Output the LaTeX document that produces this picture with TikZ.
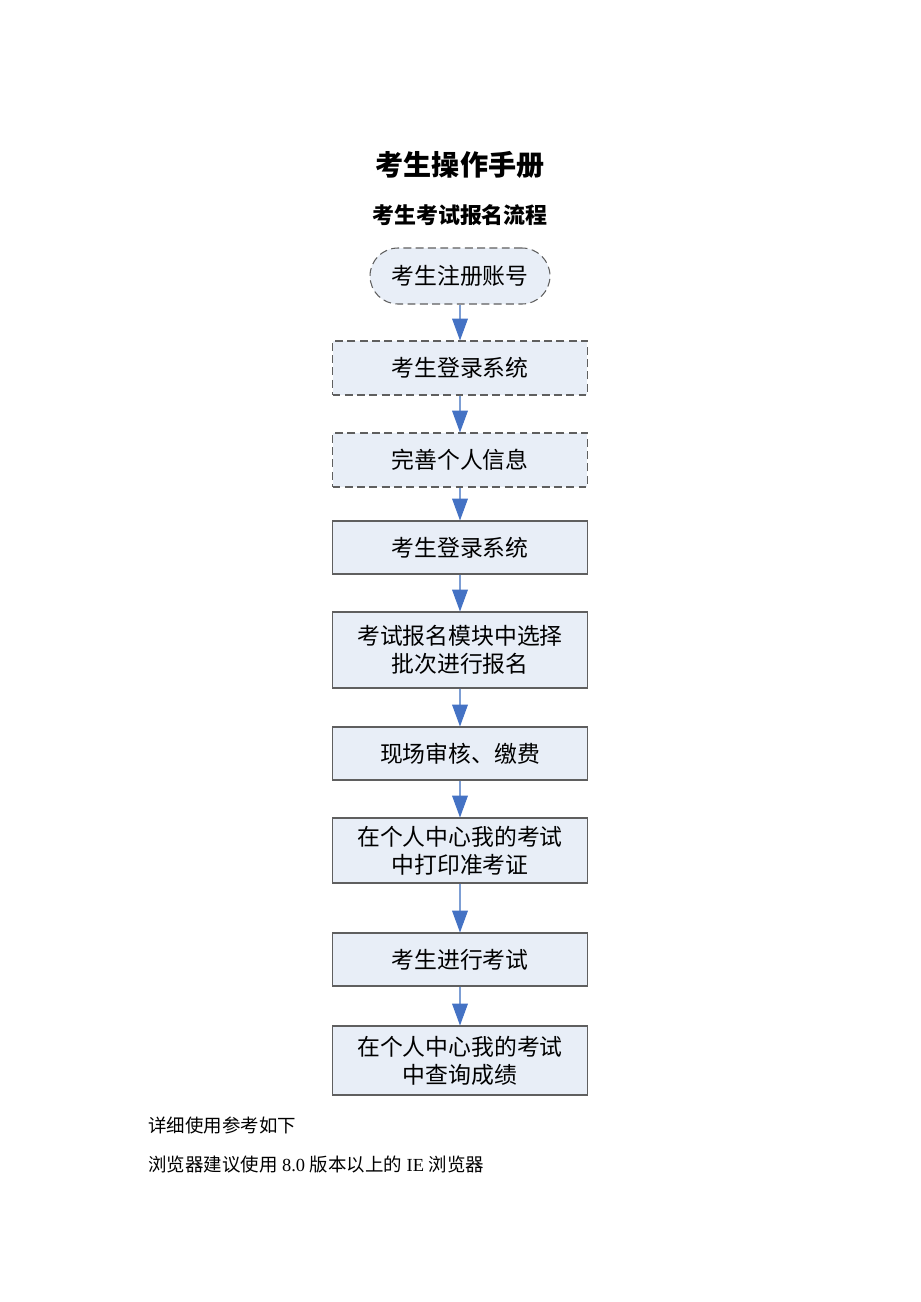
\documentclass[tikz,border=0pt]{standalone}
\usepackage{fontspec}
\setmainfont{Liberation Serif}
\newfontfamily\cjk{Noto Sans CJK SC}
\usetikzlibrary{arrows.meta}
\definecolor{boxfill}{RGB}{232,238,247}
\definecolor{boxline}{RGB}{95,95,95}
\definecolor{headblue}{RGB}{68,114,196}
\definecolor{linkblue}{RGB}{125,158,212}
\tikzset{
  stepbox/.style={draw=boxline, fill=boxfill, line width=0.6pt, minimum width=5.1cm,
    align=center, inner sep=2pt, font=\cjk\fontsize{13}{16}\selectfont},
  dashbox/.style={stepbox, dash pattern=on 4.5pt off 2.5pt},
  flow/.style={draw=linkblue, line width=0.6pt,
    -{Triangle[width=9pt,length=12.5pt,fill=headblue,color=headblue]}}
}
\begin{document}
\begin{tikzpicture}[x=0.02cm, y=-0.02cm]
      \useasboundingbox (0,0) rectangle (920,1302);
      % headings
      \node[font=\cjk\bfseries\fontsize{16}{19}\selectfont] (title) at (460,165) {考生操作手册};
      \node[font=\cjk\bfseries\fontsize{12.5}{15}\selectfont] (subtitle) at (460,215) {考生考试报名流程};
      % flow steps
      \node[dashbox, rounded corners=0.56cm, minimum width=3.6cm, minimum height=1.12cm] (register) at (460,276) {考生注册账号};
      \node[dashbox, minimum height=1.08cm] (loginA) at (460,368) {考生登录系统};
      \node[dashbox, minimum height=1.08cm] (profile) at (460,460) {完善个人信息};
      \node[stepbox, minimum height=1.06cm] (loginB) at (460,547.5) {考生登录系统};
      \node[stepbox, minimum height=1.52cm] (signup) at (460,650) {考试报名模块中选择\\批次进行报名};
      \node[stepbox, minimum height=1.06cm] (check) at (460,753.5) {现场审核、缴费};
      \node[stepbox, minimum height=1.30cm] (ticket) at (460,850.5) {在个人中心我的考试\\中打印准考证};
      \node[stepbox, minimum height=1.06cm] (exam) at (460,959.5) {考生进行考试};
      \node[stepbox, minimum height=1.38cm] (score) at (460,1060.5) {在个人中心我的考试\\中查询成绩};
      \foreach \a/\b in {register/loginA, loginA/profile, profile/loginB, loginB/signup,
                         signup/check, check/ticket, ticket/exam, exam/score}
      \draw[flow] (\a) -- (\b);
      % notes
      \node[anchor=west, inner sep=0pt, font=\fontsize{10.5}{13}\selectfont] (note1) at (148,1125) {\cjk 详细使用参考如下};
      \node[anchor=west, inner sep=0pt, font=\fontsize{10.5}{13}\selectfont] (note2) at (148,1165)
        {{\cjk 浏览器建议使用} 8.0 {\cjk 版本以上的} IE {\cjk 浏览器}};
     \end{tikzpicture}
\end{document}
